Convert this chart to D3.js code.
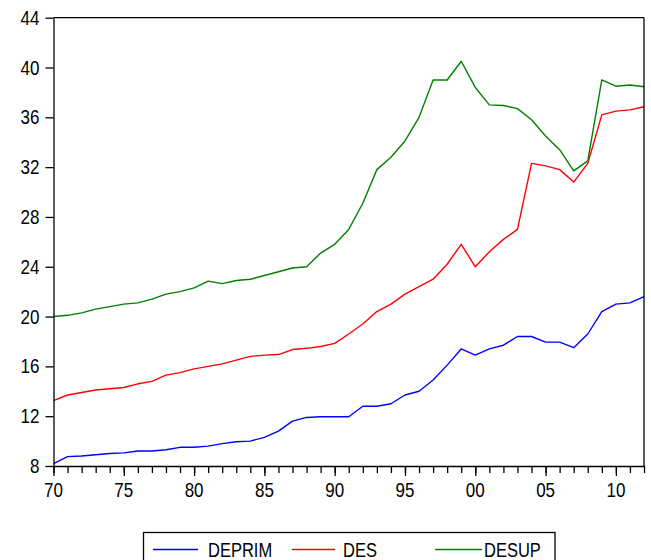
<!DOCTYPE html>
<html>
<head>
<meta charset="utf-8">
<script src="https://cdn.jsdelivr.net/npm/d3@7"></script>
<style>
html,body{margin:0;padding:0;background:#fff;}
svg{display:block;}
text{font-family:"Liberation Sans", Arial, sans-serif;fill:#000;}
</style>
</head>
<body>
<svg id="chart" width="651" height="560"></svg>
<script>
const years = d3.range(1970, 2013);
const DEPRIM = [8.2, 8.75, 8.8, 8.9, 9.0, 9.05, 9.2, 9.2, 9.3, 9.5,
  9.5, 9.6, 9.8, 9.95, 10.0, 10.3, 10.8, 11.6, 11.9, 11.95,
  11.95, 11.95, 12.8, 12.8, 13.0, 13.7, 14.0, 14.9, 16.1, 17.4,
  16.9, 17.4, 17.7, 18.4, 18.4, 17.95, 17.95, 17.5, 18.6, 20.4,
  21.0, 21.1, 21.6];
const DES = [13.25, 13.7, 13.9, 14.1, 14.2, 14.3, 14.6, 14.8, 15.3, 15.5,
  15.8, 16.0, 16.2, 16.5, 16.8, 16.9, 16.95, 17.35, 17.45, 17.6,
  17.85, 18.6, 19.4, 20.4, 21.0, 21.8, 22.4, 23.0, 24.2, 25.8,
  24.0, 25.2, 26.2, 27.0, 32.3, 32.1, 31.8, 30.8, 32.3, 36.2,
  36.5, 36.6, 36.85];
const DESUP = [20.0, 20.1, 20.3, 20.6, 20.8, 21.0, 21.1, 21.4, 21.8, 22.0,
  22.3, 22.85, 22.65, 22.9, 23.0, 23.3, 23.6, 23.9, 24.0, 25.1,
  25.8, 27.0, 29.1, 31.8, 32.8, 34.1, 36.0, 39.0, 39.0, 40.5,
  38.4, 37.0, 36.95, 36.7, 35.8, 34.5, 33.4, 31.7, 32.5, 39.0,
  38.5, 38.6, 38.45];
const seriesNames = ["DEPRIM", "DES", "DESUP"];
const seriesColors = ["#0000ff", "#ff0000", "#008000"];
const seriesValues = [DEPRIM, DES, DESUP];
const yTicks = [8, 12, 16, 20, 24, 28, 32, 36, 40, 44];
const xMajor = [1970, 1975, 1980, 1985, 1990, 1995, 2000, 2005, 2010];
const xLabels = ["70", "75", "80", "85", "90", "95", "00", "05", "10"];

const svg = d3.select("#chart");
const L = 53.5, R = 644, T = 17.7, B = 466;
const x = d3.scaleLinear().domain([1970, 2012]).range([L, R]);
const y = d3.scaleLinear().domain([8, 44]).range([B, T]);
const SY = 1.2;

function stretchedText(g, tx, ty, str, anchor, size) {
  g.append("text")
    .attr("transform", `translate(${tx},${ty}) scale(1,${SY})`)
    .attr("text-anchor", anchor)
    .attr("dominant-baseline", "central")
    .style("font-size", size + "px")
    .text(str);
}

// series lines
const line = d3.line().x((d, i) => x(years[i])).y(d => y(d));
seriesValues.forEach((vals, k) => {
  svg.append("path").datum(vals)
    .attr("d", line)
    .attr("fill", "none")
    .attr("stroke", seriesColors[k])
    .attr("stroke-width", 1.4)
    .attr("stroke-linejoin", "round");
});

// Frame top & right
svg.append("line").attr("x1", L).attr("x2", R).attr("y1", T).attr("y2", T)
  .attr("stroke", "#000").attr("stroke-width", 1.3);
svg.append("line").attr("x1", R).attr("x2", R).attr("y1", T).attr("y2", B)
  .attr("stroke", "#000").attr("stroke-width", 1.3);

// Y axis
const yAxis = svg.append("g").attr("transform", `translate(${L},0)`)
  .call(d3.axisLeft(y).tickValues(yTicks).tickSize(8).tickSizeOuter(0).tickFormat(""));
yAxis.select(".domain").attr("stroke", "#000").attr("stroke-width", 1.3);
yAxis.selectAll(".tick line").attr("stroke", "#000").attr("stroke-width", 1.3);
const yl = svg.append("g");
yTicks.forEach(t => stretchedText(yl, L - 14, y(t), String(t), "end", 17));

// X axis: minor ticks every year, major every 5
const xAxisMinor = svg.append("g").attr("transform", `translate(0,${B})`)
  .call(d3.axisBottom(x).tickValues(years).tickSize(7).tickSizeOuter(0).tickFormat(""));
xAxisMinor.select(".domain").attr("stroke", "#000").attr("stroke-width", 1.3);
xAxisMinor.selectAll(".tick line").attr("stroke", "#000").attr("stroke-width", 1.3);
const xAxisMajor = svg.append("g").attr("transform", `translate(0,${B})`)
  .call(d3.axisBottom(x).tickValues(xMajor).tickSize(10).tickSizeOuter(0).tickFormat(""));
xAxisMajor.select(".domain").remove();
xAxisMajor.selectAll(".tick line").attr("stroke", "#000").attr("stroke-width", 1.3);
const xl = svg.append("g");
xMajor.forEach((t, i) => stretchedText(xl, x(t), 490, xLabels[i], "middle", 17));

// Legend
const lg = svg.append("g");
lg.append("rect").attr("x", 143.5).attr("y", 532.5).attr("width", 411.5).attr("height", 40)
  .attr("fill", "none").attr("stroke", "#000").attr("stroke-width", 1.3);
const legPos = [{x1: 153, x2: 198, tx: 208}, {x1: 292, x2: 335, tx: 343}, {x1: 435, x2: 482, tx: 484}];
seriesNames.forEach((n, k) => {
  lg.append("line").attr("x1", legPos[k].x1).attr("x2", legPos[k].x2)
    .attr("y1", 549.5).attr("y2", 549.5)
    .attr("stroke", seriesColors[k]).attr("stroke-width", 1.4);
  stretchedText(lg, legPos[k].tx, 550, n, "start", 16.5);
});
</script>
</body>
</html>
